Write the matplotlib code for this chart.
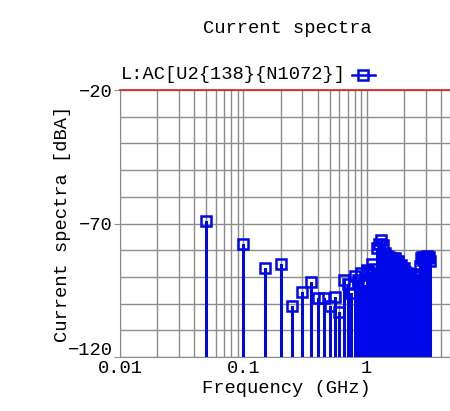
import numpy as np
import matplotlib
matplotlib.use('Agg')
import matplotlib.pyplot as plt
import matplotlib.transforms as mtransforms
from matplotlib.lines import Line2D
from matplotlib.ticker import FixedLocator, NullFormatter

plt.rcParams['font.family'] = ['Liberation Mono', 'DejaVu Sans Mono']

# harmonics of 50 MHz
freq = 0.05 * np.arange(1, 66)
level = [-69, -77.5, -86.5, -85, -101, -95.5, -92, -98, -98, -101,
         -97.5, -103, -91, -92.5, -96, -89.5, -91, -88.5, -93, -87.5,
         -88, -85, -87, -79, -77.5, -76, -78, -81, -82, -82.5,
         -84, -83, -84.5, -83, -85, -84, -86, -85.5, -87, -86.5,
         -88, -88.5, -89, -90, -90.5, -91, -92, -93, -92, -94,
         -91, -90, -89, -86, -83, -82.5, -83.5, -82.5, -83, -82.5,
         -82, -83, -82.5, -82.5, -84]
series_name = 'L:AC[U2{138}{N1072}]'

blue = '#0008e8'
grey = '#8c8c8c'

fig = plt.figure(figsize=(4.5, 4.11), dpi=100)
ax = fig.add_axes([0.2667, 0.1314, 0.7400, 0.6496])

ax.set_xscale('log')
ax.set_xlim(0.01, 5)
ax.set_ylim(-120, -20)

ax.vlines(freq, -120, level, color=blue, lw=1.8, zorder=3, antialiased=False)
ax.plot(freq, level, ls='none', marker='s', ms=6.5, mec=blue, mfc='none',
        mew=1.8, zorder=4, clip_on=False, antialiased=False)

ax.xaxis.set_major_locator(FixedLocator([0.01, 0.1, 1]))
ax.set_xticklabels(['0.01', '0.1', '1'])
ax.xaxis.set_minor_locator(FixedLocator([m * 10.0 ** e for e in (-2, -1, 0) for m in range(2, 10)]))
ax.xaxis.set_minor_formatter(NullFormatter())
ax.yaxis.set_major_locator(FixedLocator([-120, -70, -20]))
ax.yaxis.set_minor_locator(FixedLocator(np.arange(-110, -20, 10)))
ax.grid(True, which='both', color=grey, lw=1.0, zorder=1)
ax.set_axisbelow(True)
ax.tick_params(axis='x', which='both', length=0, labelsize=13.5, pad=2)
ax.tick_params(axis='y', which='major', length=4, color=grey, labelsize=13.5, pad=1)
ax.tick_params(axis='y', which='minor', length=0)

# lift the -120 label a little, like the original
lbl = ax.get_yticklabels()[0]
lbl.set_transform(lbl.get_transform() + mtransforms.ScaledTranslation(0, 8 / 100, fig.dpi_scale_trans))

for s in ('left', 'bottom'):
    ax.spines[s].set_color(grey)
ax.spines['right'].set_visible(False)
ax.spines['top'].set_color('#d42020')
ax.spines['top'].set_linewidth(1.2)

ax.set_xlabel('Frequency (GHz)', fontsize=13.5, labelpad=2)
ax.set_ylabel('Current spectra [dBA]', fontsize=13.5, labelpad=-2)
fig.text(0.638, 0.93, 'Current spectra', fontsize=13.5, ha='center', va='center')

# legend entry above the plot
fig.text(0.268, 0.818, series_name, fontsize=13.5, ha='left', va='center')
fig.add_artist(Line2D([0.782, 0.807, 0.833], [0.818, 0.818, 0.818], color=blue, lw=1.8,
                      marker='s', markevery=[1], ms=6.5, mfc='none', mec=blue, mew=1.8,
                      transform=fig.transFigure))

fig.savefig('out.png', dpi=100)
